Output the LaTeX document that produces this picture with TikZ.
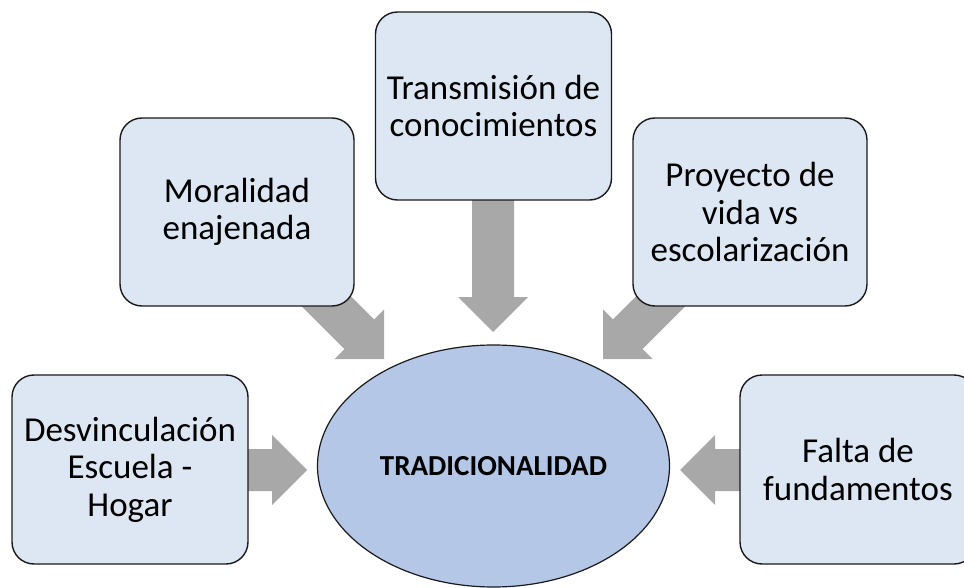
\documentclass[tikz,border=0pt]{standalone}
\usepackage{fontspec}
\setmainfont{Carlito}
\usetikzlibrary{calc,shapes.geometric}
\definecolor{boxfill}{HTML}{DDE7F3}
\definecolor{ellfill}{HTML}{B4C7E7}
\definecolor{arrgray}{HTML}{A8A8A8}
\definecolor{edge}{HTML}{1A1A1A}
\tikzset{
  ideabox/.style={draw=edge, line width=1.4pt, fill=boxfill, rounded corners=22pt,
    inner sep=0pt, align=center, font=\fontsize{35}{37.5}\selectfont},
  central/.style={ellipse, draw=edge, line width=1.2pt, fill=ellfill, inner sep=0pt,
    font=\fontsize{29}{32}\selectfont\bfseries},
  blockarrow/.style={fill=arrgray, draw=none}
}
\newcommand{\bigarrow}[2]{%
  \fill[blockarrow]
    ($(#1)!21pt!90:(#2)$) --
    ($($(#2)!35pt!(#1)$)!21pt!-90:(#1)$) --
    ($($(#2)!35pt!(#1)$)!35pt!-90:(#1)$) --
    (#2) --
    ($($(#2)!35pt!(#1)$)!35pt!90:(#1)$) --
    ($($(#2)!35pt!(#1)$)!21pt!90:(#1)$) --
    ($(#1)!21pt!-90:(#2)$) -- cycle;}
\begin{document}
\begin{tikzpicture}[x=1pt,y=-1pt]
\useasboundingbox (0,0) rectangle (964,588);
% arrow ends
\coordinate (tTop) at (493,190);   \coordinate (hTop) at (493,332);
\coordinate (tUL) at (300,275);    \coordinate (hUL) at (384,359);
\coordinate (tUR) at (687,275);    \coordinate (hUR) at (603,359);
\coordinate (tL) at (230,470);     \coordinate (hL) at (307,470);
\coordinate (tR) at (757,470);     \coordinate (hR) at (680,470);
\bigarrow{tTop}{hTop}
\bigarrow{tUL}{hUL}
\bigarrow{tUR}{hUR}
\bigarrow{tL}{hL}
\bigarrow{tR}{hR}
% boxes
\node[ideabox, minimum width=236pt, minimum height=188pt] (trans) at (493.5,106) {Transmisión de\\conocimientos};
\node[ideabox, minimum width=234pt, minimum height=188pt] (moral) at (237,212) {Moralidad\\enajenada};
\node[ideabox, minimum width=234pt, minimum height=188pt] (proy) at (750,212) {Proyecto de\\vida vs\\escolarización};
\node[ideabox, minimum width=236pt, minimum height=189pt] (desv) at (130,469.5) {Desvinculación\\Escuela -\\Hogar};
\node[ideabox, minimum width=236pt, minimum height=189pt] (falta) at (858,469.5) {Falta de\\fundamentos};
% centre
\node[central, minimum width=352pt, minimum height=242pt] (trad) at (493.5,466) {TRADICIONALIDAD};
\end{tikzpicture}
\end{document}
